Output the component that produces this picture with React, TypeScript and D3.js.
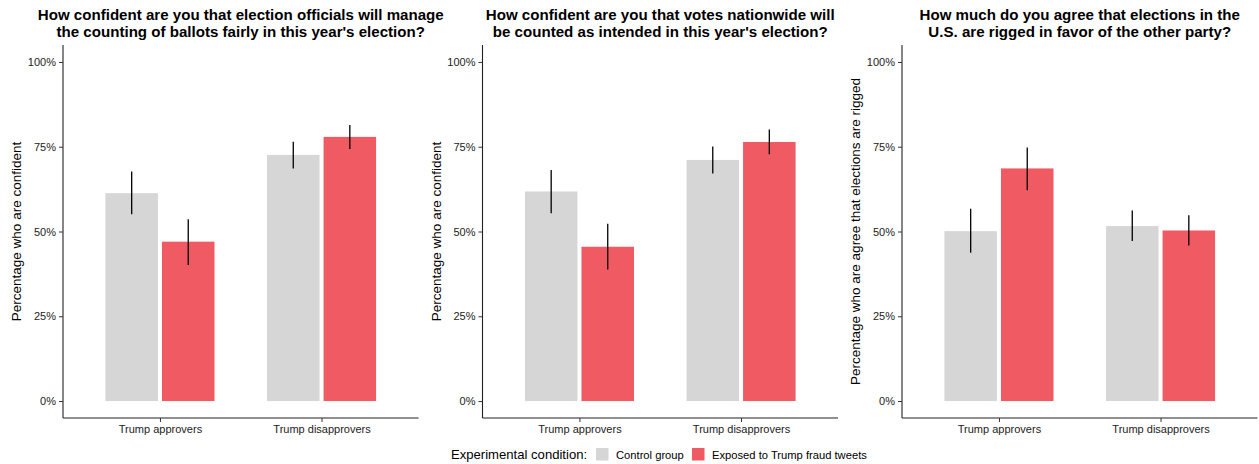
import { useEffect, useRef } from "react";
import * as d3 from "d3";

// categories + conditions
const groups = ["Trump approvers", "Trump disapprovers"];
const conditions = ["Control group", "Exposed to Trump fraud tweets"];
const colors = ["#D6D6D6", "#F05A62"];

// panel titles / y labels
const titles = [
  ["How confident are you that election officials will manage", "the counting of ballots fairly in this year's election?"],
  ["How confident are you that votes nationwide will", "be counted as intended in this year's election?"],
  ["How much do you agree that elections in the", "U.S. are rigged in favor of the other party?"],
];
const yLabels = [
  "Percentage who are confident",
  "Percentage who are confident",
  "Percentage who are agree that elections are rigged",
];

// values: [panel][group] -> [control, exposed]
const meanValues = [
  [[0.613, 0.47], [0.726, 0.779]],
  [[0.618, 0.455], [0.711, 0.764]],
  [[0.501, 0.686], [0.516, 0.503]],
];
const lowValues = [
  [[0.551, 0.401], [0.686, 0.743]],
  [[0.554, 0.388], [0.671, 0.728]],
  [[0.437, 0.622], [0.472, 0.459]],
];
const highValues = [
  [[0.677, 0.536], [0.765, 0.814]],
  [[0.681, 0.523], [0.751, 0.801]],
  [[0.567, 0.748], [0.562, 0.548]],
];
const yTicks = [0, 0.25, 0.5, 0.75, 1];

function App() {
  const ref = useRef<SVGSVGElement>(null);

  useEffect(() => {
    const svg = d3.select(ref.current);
    svg.selectAll("*").remove();
    const font = "Liberation Sans, Arial, sans-serif";

    const panelLeft = [63, 482.5, 902];
    const panelW = 355.5;
    const top = 45, bottom = 418;

    const y = d3.scaleLinear().domain([-0.05, 1.05]).range([bottom, top]);

    panelLeft.forEach((left, p) => {
      const x = d3.scalePoint().domain(groups).range([left, left + panelW]).padding(0.6);
      const unit = x.step();
      // dodge 0.7, bar width 0.65 of slot
      const dodge = d3.scalePoint().domain(conditions).range([-unit * 0.175, unit * 0.175]);
      const barW = unit * 0.325;

      const g = svg.append("g");

      // bars
      groups.forEach((grp, gi) => {
        conditions.forEach((c, ci) => {
          const cx = (x(grp) as number) + (dodge(c) as number);
          const v = meanValues[p][gi][ci];
          g.append("rect")
            .attr("x", cx - barW / 2)
            .attr("y", y(v))
            .attr("width", barW)
            .attr("height", y(0) - y(v))
            .attr("fill", colors[ci]);
          g.append("line")
            .attr("x1", cx).attr("x2", cx)
            .attr("y1", y(lowValues[p][gi][ci]))
            .attr("y2", y(highValues[p][gi][ci]))
            .attr("stroke", "#000")
            .attr("stroke-width", 1.3);
        });
      });

      // y axis
      const yAxis = d3.axisLeft(y).tickValues(yTicks).tickSize(4).tickPadding(3).tickFormat(d3.format(".0%"));
      const ya = g.append("g").attr("transform", `translate(${left},0)`).call(yAxis);
      ya.select(".domain").attr("d", `M0,${top}V${bottom}`).attr("stroke", "#222").attr("stroke-width", 1.1);
      ya.selectAll(".tick line").attr("stroke", "#333");
      ya.selectAll(".tick text").attr("font-family", font).attr("font-size", 11).attr("fill", "#222");

      // x axis
      const xAxis = d3.axisBottom(x).tickSize(4).tickPadding(3);
      const xa = g.append("g").attr("transform", `translate(0,${bottom})`).call(xAxis);
      xa.select(".domain").attr("d", `M${left},0H${left + panelW}`).attr("stroke", "#222").attr("stroke-width", 1.1);
      xa.selectAll(".tick line").attr("stroke", "#333");
      xa.selectAll(".tick text").attr("font-family", font).attr("font-size", 11).attr("fill", "#222");

      // y title
      g.append("text")
        .attr("transform", `translate(${left - 42},${(top + bottom) / 2}) rotate(-90)`)
        .attr("text-anchor", "middle")
        .attr("font-family", font)
        .attr("font-size", 13.5)
        .attr("fill", "#000")
        .text(yLabels[p]);

      // title
      titles[p].forEach((line, li) => {
        g.append("text")
          .attr("x", left + panelW / 2)
          .attr("y", 20 + li * 16.5)
          .attr("text-anchor", "middle")
          .attr("font-family", font)
          .attr("font-weight", "bold")
          .attr("font-size", 15.1)
          .attr("fill", "#000")
          .text(line);
      });
    });

    // legend
    const lg = svg.append("g");
    lg.append("text")
      .attr("x", 451).attr("y", 459)
      .attr("font-family", font).attr("font-size", 13.1).attr("fill", "#000")
      .text("Experimental condition:");
    const legX = [596, 692];
    conditions.forEach((c, i) => {
      lg.append("rect")
        .attr("x", legX[i]).attr("y", 448)
        .attr("width", 12.5).attr("height", 12.5)
        .attr("fill", colors[i]);
      lg.append("text")
        .attr("x", legX[i] + 20).attr("y", 459)
        .attr("font-family", font).attr("font-size", 11.2).attr("fill", "#000")
        .text(c);
    });
  }, []);

  return (
    <div style={{ position: "absolute", left: 0, top: 0 }}>
      <svg ref={ref} width={1259} height={464} style={{ display: "block", background: "#fff" }}></svg>
    </div>
  );
}

export default App;
